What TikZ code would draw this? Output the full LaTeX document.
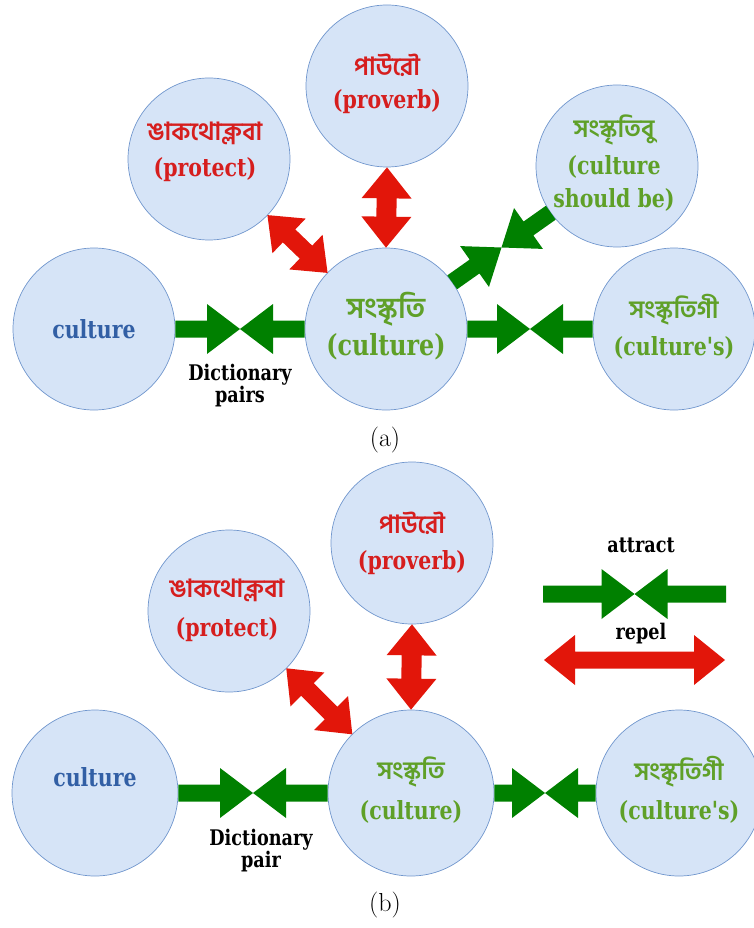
\documentclass[tikz,border=0pt]{standalone}
\usepackage{fontspec}
\newfontfamily\bnfont[Script=Bengali]{Hind Siliguri}
\newfontfamily\enfont[FakeStretch=0.82]{DejaVu Serif}
\usetikzlibrary{calc}
\definecolor{bubfill}{RGB}{214,228,247}
\definecolor{bubline}{RGB}{112,150,205}
\definecolor{garrow}{RGB}{0,128,0}
\definecolor{rarrow}{RGB}{226,22,10}
\definecolor{redtxt}{RGB}{214,30,30}
\definecolor{grntxt}{RGB}{95,160,40}
\definecolor{blutxt}{RGB}{50,95,165}
% single block arrow: #1 style, #2 start, #3 tip, #4 shaft half width, #5 head half width, #6 head length
\newcommand\sarrow[6]{%
  \coordinate (hbx) at ($(#3)!#6!(#2)$);
  \fill[#1] ($(#2)!#4!90:(#3)$) -- ($(hbx)!#4!90:(#3)$) -- ($(hbx)!#5!90:(#3)$) -- (#3)
    -- ($(hbx)!#5!-90:(#3)$) -- ($(hbx)!#4!-90:(#3)$) -- ($(#2)!#4!-90:(#3)$) -- cycle;}
% double block arrow: #1 style, #2 end A, #3 end B, #4 shaft half, #5 head half, #6 head length
\newcommand\darrow[6]{%
  \coordinate (hax) at ($(#2)!#6!(#3)$);
  \coordinate (hbx) at ($(#3)!#6!(#2)$);
  \fill[#1] (#2) -- ($(hax)!#5!90:(#3)$) -- ($(hax)!#4!90:(#3)$) -- ($(hbx)!#4!-90:(#2)$)
    -- ($(hbx)!#5!-90:(#2)$) -- (#3) -- ($(hbx)!#5!90:(#2)$) -- ($(hbx)!#4!90:(#2)$)
    -- ($(hax)!#4!-90:(#3)$) -- ($(hax)!#5!-90:(#3)$) -- cycle;}
% attract pair between two points
\newcommand\attract[3]{%
  \coordinate (#3) at ($(#1)!0.5!(#2)$);
  \sarrow{garrow}{#1}{#3}{8.5pt}{25pt}{33pt}
  \sarrow{garrow}{#2}{#3}{8.5pt}{25pt}{33pt}}
\begin{document}
\begin{tikzpicture}[x=1pt,y=-1pt,
  bub/.style={circle,draw=bubline,fill=bubfill,line width=0.7pt,minimum size=162pt,inner sep=0pt,align=center},
  bubb/.style={bub,minimum size=166pt},
  bn/.style={font=\bnfont\bfseries\fontsize{25}{30}\selectfont},
  en/.style={font=\enfont\bfseries\fontsize{25}{30}\selectfont},
  lab/.style={font=\enfont\bfseries\fontsize{21.5}{24}\selectfont,align=center,text=black},
  captxt/.style={font=\fontsize{26}{30}\selectfont}]
\useasboundingbox (0,0) rectangle (753,928);
% ---------------- (a) ----------------
\node[bub] (a1) at (94,329) {};
\node[en,text=blutxt] (a1t) at (94,329) {culture};
\node[bub] (a0) at (386,329) {};
\node[bn,text=grntxt,font=\bnfont\bfseries\fontsize{29}{34}\selectfont] (a0b) at (386,309) {সংস্কৃতি};
\node[en,text=grntxt,font=\enfont\bfseries\fontsize{29}{34}\selectfont] (a0e) at (386,347) {(culture)};
\node[bub] (a3) at (674,329) {};
\node[bn,text=grntxt] (a3b) at (674,310) {সংস্কৃতিগী};
\node[en,text=grntxt] (a3e) at (674,348) {(culture's)};
\node[bub] (a4) at (387,86) {};
\node[bn,text=redtxt] (a4b) at (387,65) {পাউরৌ};
\node[en,text=redtxt] (a4e) at (387,102) {(proverb)};
\node[bub] (a2) at (209,159) {};
\node[bn,text=redtxt] (a2b) at (205,133) {ঙাকথোক্লবা};
\node[en,text=redtxt] (a2e) at (205,170) {(protect)};
\node[bub] (a5) at (617,166) {};
\node[bn,text=grntxt] (a5b) at (614,130) {সংস্কৃতিবু};
\node[en,text=grntxt] (a5e) at (614,167) {(culture};
\node[en,text=grntxt] (a5f) at (614,200) {should be)};
% connectors (a)
\attract{a1.east}{a0.west}{ma1}
\attract{a0.east}{a3.west}{ma2}
\coordinate (da1) at ($(a0.center)!81pt!(a5.center)$);
\coordinate (da2) at ($(a5.center)!81pt!(a0.center)$);
\attract{da1}{da2}{ma3}
\darrow{rarrow}{a4.south}{a0.north}{10pt}{25pt}{31pt}
\coordinate (ra1) at ($(a2.center)!81pt!(a0.center)$);
\coordinate (ra2) at ($(a0.center)!81pt!(a2.center)$);
\darrow{rarrow}{ra1}{ra2}{9pt}{24pt}{30pt}
\node[lab] (dp1) at (240,386) {Dictionary\\[-2pt]pairs};
\node[captxt] (capa) at (385,440) {(a)};
% ---------------- (b) ----------------
\node[bubb] (b1) at (95,793) {};
\node[en,text=blutxt] (b1t) at (95,777) {culture};
\node[bubb] (b0) at (411,793) {};
\node[bn,text=grntxt] (b0b) at (411,772) {সংস্কৃতি};
\node[en,text=grntxt] (b0e) at (411,812) {(culture)};
\node[bubb] (b3) at (679,793) {};
\node[bn,text=grntxt] (b3b) at (679,772) {সংস্কৃতিগী};
\node[en,text=grntxt] (b3e) at (679,812) {(culture's)};
\node[bub] (b4) at (412,543) {};
\node[bn,text=redtxt] (b4b) at (412,523) {পাউরৌ};
\node[en,text=redtxt] (b4e) at (412,563) {(proverb)};
\node[bub] (b2) at (229,611) {};
\node[bn,text=redtxt] (b2b) at (227,590) {ঙাকথোক্লবা};
\node[en,text=redtxt] (b2e) at (227,630) {(protect)};
% connectors (b)
\attract{b1.east}{b0.west}{mb1}
\attract{b0.east}{b3.west}{mb2}
\darrow{rarrow}{b4.south}{b0.north}{10pt}{25pt}{31pt}
\coordinate (rb1) at ($(b2.center)!81pt!(b0.center)$);
\coordinate (rb2) at ($(b0.center)!83pt!(b2.center)$);
\darrow{rarrow}{rb1}{rb2}{9pt}{24pt}{30pt}
\node[lab] (dp2) at (261,851) {Dictionary\\[-2pt]pair};
% legend
\node[lab] (latt) at (641,545) {attract};
\coordinate (la1) at (543,594);
\coordinate (la2) at (726,594);
\attract{la1}{la2}{ml}
\node[lab] (lrep) at (641,634) {repel};
\coordinate (lr1) at (544,660);
\coordinate (lr2) at (725,660);
\darrow{rarrow}{lr1}{lr2}{8.5pt}{25pt}{31pt}
\node[captxt] (capb) at (385,905) {(b)};
\end{tikzpicture}
\end{document}
